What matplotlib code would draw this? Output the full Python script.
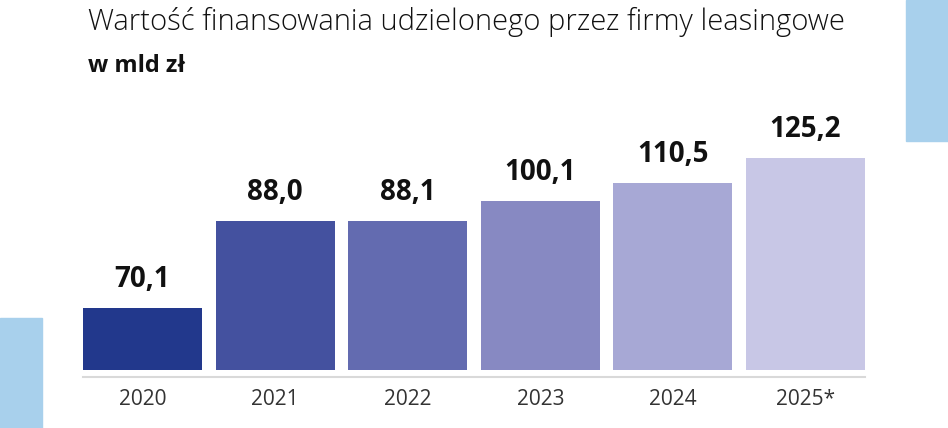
import matplotlib
matplotlib.use("Agg")
import matplotlib.pyplot as plt
from matplotlib.patches import Rectangle

# dane
years = ["2020", "2021", "2022", "2023", "2024", "2025*"]
value_labels = ["70,1", "88,0", "88,1", "100,1", "110,5", "125,2"]
# wysokosci slupkow (slupek 2020 jest w oryginale skrocony)
bar_heights = [36.6, 88.0, 88.1, 100.1, 110.5, 125.2]
colors = ["#22388c", "#44519f", "#636bb0", "#8789c2", "#a7a8d5", "#c8c7e6"]

plt.rcParams["font.family"] = ["Open Sans", "DejaVu Sans"]

fig = plt.figure(figsize=(9.48, 4.28), dpi=100)

# dekoracyjne prostokaty
fig.patches.append(Rectangle((906 / 948, 1 - 141 / 428), 42 / 948, 141 / 428,
                             transform=fig.transFigure, color="#a8d0ec", zorder=0))
fig.patches.append(Rectangle((0, 0), 42 / 948, 110 / 428,
                             transform=fig.transFigure, color="#a8d0ec", zorder=0))

ax = fig.add_axes([83 / 948, 58 / 428, 782 / 948, 250 / 428])
x = list(range(len(years)))
ax.bar(x, bar_heights, width=0.897, color=colors)

for i, (h, lab) in enumerate(zip(bar_heights, value_labels)):
    ax.annotate(lab, (i, h), xytext=(0, 10), textcoords="offset points",
                ha="center", va="bottom", fontsize=20, fontweight="bold",
                color="#111111")

ax.set_xlim(-0.4485, 5.4485)
ax.set_ylim(0, 250 / 1.691)
ax.set_xticks(x)
ax.set_xticklabels(years)
ax.tick_params(axis="x", length=0, pad=9, labelsize=15, labelcolor="#333333")
ax.set_yticks([])
for s in ["top", "right", "left"]:
    ax.spines[s].set_visible(False)
ax.spines["bottom"].set_position(("outward", 5))
ax.spines["bottom"].set_color("#d9d9d9")
ax.spines["bottom"].set_linewidth(1.5)

fig.text(88 / 948, 1 - 30 / 428, "Wartość finansowania udzielonego przez firmy leasingowe",
         fontsize=21, fontweight="light", color="#111111", ha="left", va="baseline")
fig.text(88 / 948, 1 - 72 / 428, "w mld zł", fontsize=17, fontweight="bold",
         color="#111111", ha="left", va="baseline")

fig.savefig("out.png", dpi=100)
